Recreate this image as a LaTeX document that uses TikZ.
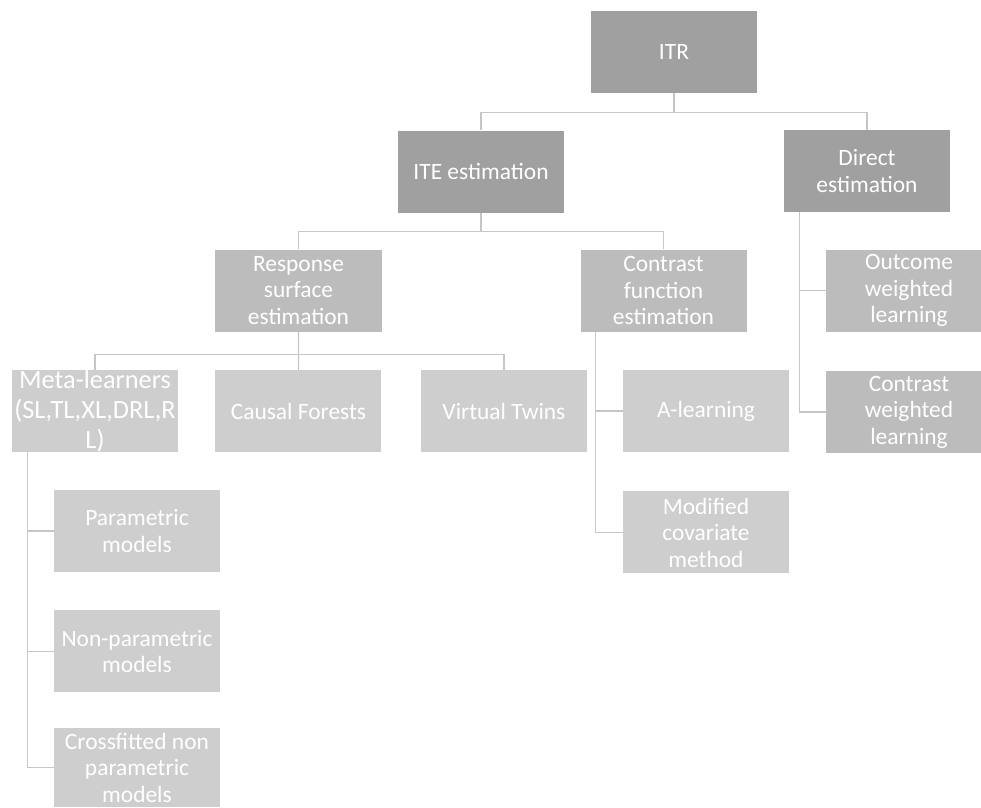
\documentclass[tikz,border=0pt]{standalone}
\usepackage{fontspec}
\setmainfont{Carlito}
\usetikzlibrary{positioning, calc}
\definecolor{itrdark}{HTML}{A0A0A0}
\definecolor{itrmid}{HTML}{BCBCBC}
\definecolor{itrlight}{HTML}{CECECE}
\definecolor{itrline}{HTML}{C6C6C6}

\begin{document}
\begin{tikzpicture}[x=0.03cm, y=-0.03cm,
      hd/.style={fill=itrdark, text=white, font=\fontsize{20}{22.6}\selectfont, minimum width=4.98cm, minimum height=2.46cm, inner sep=0pt, align=center},
      md/.style={hd, fill=itrmid},
      lf/.style={hd, fill=itrlight},
      ln/.style={draw=itrline, line width=1.2pt}]
    \useasboundingbox (0,0) rectangle (981,807);
    % top levels
    \node[hd] (itr) at (674,52) {ITR};
    \node[hd] (ite) at (481,171.5) {ITE estimation};
    \node[hd] (direct) at (867,171) {Direct\\estimation};
    \node[md] (resp) at (298.5,290.5) {Response\\surface\\estimation};
    \node[md] (contr) at (663.5,290.5) {Contrast\\function\\estimation};
    \node[md] (outc) at (909,290.5) {Outcome\\weighted\\learning};
    \node[md, below=1.17cm of outc] (cwl) {Contrast\\weighted\\learning};
    % leaves
    \node[lf, font=\fontsize{22.5}{25.5}\selectfont] (meta) at (95,411) {Meta-learners\\(SL,TL,XL,DRL,R\\L)};
    \node[lf, right=1.11cm of meta] (causal) {Causal Forests};
    \node[lf, right=1.17cm of causal] (twins) {Virtual Twins};
    \node[lf] (alrn) at (706,411) {A-learning};
    \node[lf, below=1.17cm of alrn] (modcov) {Modified\\covariate\\method};
    \node[lf] (param) at (137,531) {Parametric\\models};
    \node[lf, below=1.14cm of param] (nonpar) {Non-parametric\\models};
    \node[lf, minimum height=2.37cm] (cross) at (137,767.5) {Crossfitted non\\parametric\\models};
    % connectors
    \draw[ln] (itr.south) -- ++(0,19) -| (ite.north);
    \draw[ln] (itr.south) -- ++(0,19) -| (direct.north);
    \draw[ln] (ite.south) -- ++(0,19) -| (resp.north);
    \draw[ln] (ite.south) -- ++(0,19) -| (contr.north);
    \draw[ln] (resp.south) -- ++(0,23) -| (meta.north);
    \draw[ln] (resp.south) -- (causal.north);
    \draw[ln] (resp.south) -- ++(0,23) -| (twins.north);
    \draw[ln] ($(contr.south west)+(15,0)$) |- (alrn.west);
    \draw[ln] ($(contr.south west)+(15,0)$) |- (modcov.west);
    \draw[ln] ($(direct.south west)+(16,0)$) |- (outc.west);
    \draw[ln] ($(direct.south west)+(16,0)$) |- (cwl.west);
    \draw[ln] ($(meta.south west)+(16,0)$) |- (param.west);
    \draw[ln] ($(meta.south west)+(16,0)$) |- (nonpar.west);
    \draw[ln] ($(meta.south west)+(16,0)$) |- (cross.west);
  \end{tikzpicture}
\end{document}
